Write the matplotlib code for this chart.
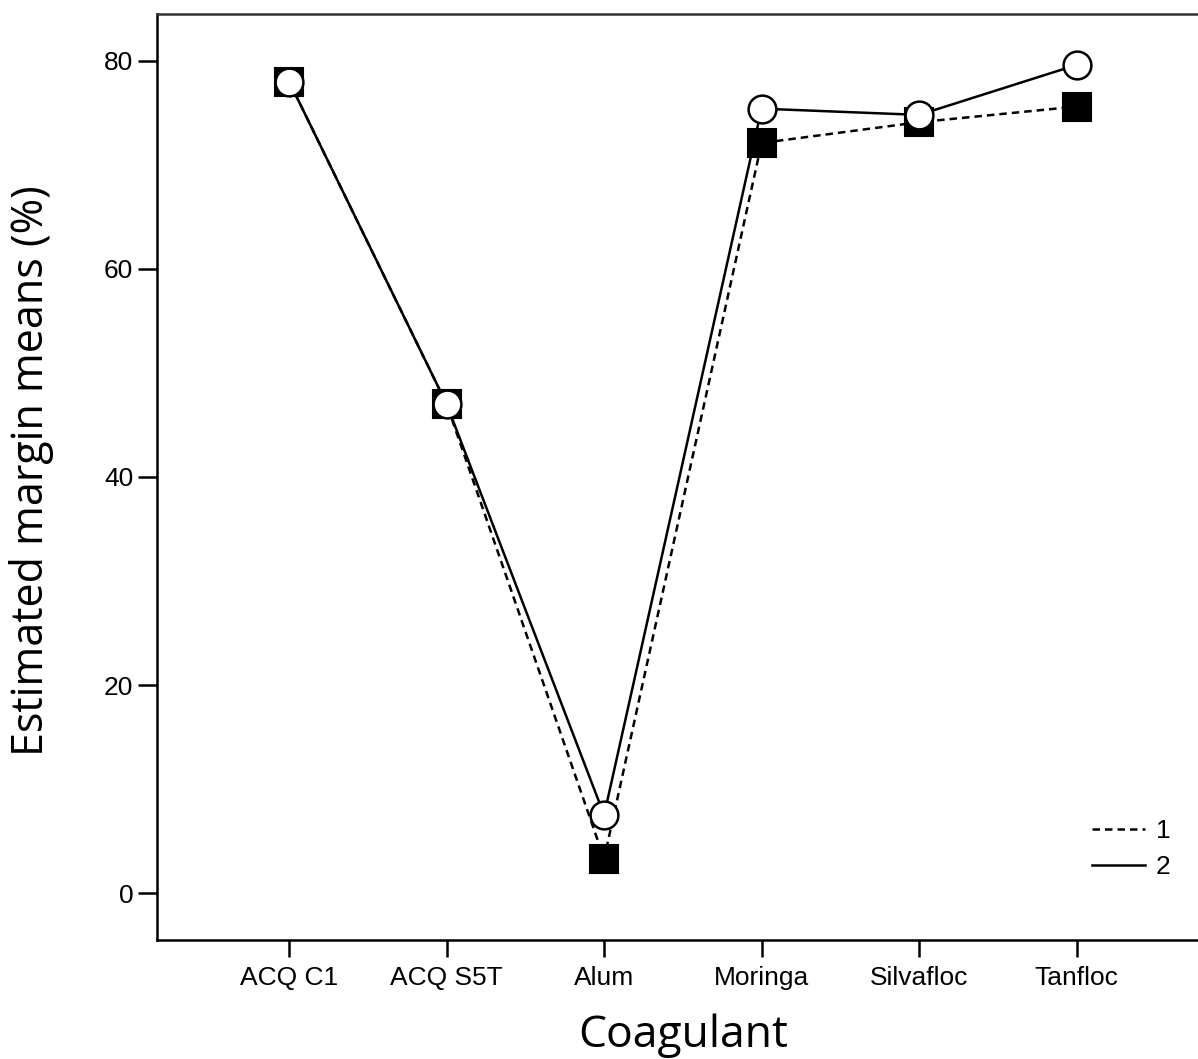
import numpy as np
import matplotlib
matplotlib.use('Agg')
import matplotlib.pyplot as plt
from matplotlib.lines import Line2D

# data
coagulants = ['ACQ C1', 'ACQ S5T', 'Alum', 'Moringa', 'Silvafloc', 'Tanfloc']
means_1 = [78.0, 47.0, 3.3, 72.1, 74.1, 75.6]
means_2 = [78.0, 47.0, 7.5, 75.4, 74.8, 79.6]
yticks = [0, 20, 40, 60, 80]

tick_font = 'Liberation Sans'
label_font = 'Open Sans'

fig = plt.figure(figsize=(11.98, 10.59), dpi=100)
ax = fig.add_axes([0.131, 0.1124, 0.878, 0.8744])

x = np.arange(len(coagulants))
ax.plot(x, means_1, linestyle=(0, (3, 2)), color='black', lw=1.8,
        marker='s', ms=20, mfc='black', mec='black', mew=1.5, zorder=3)
ax.plot(x, means_2, linestyle='-', color='black', lw=1.8,
        marker='o', ms=20, mfc='white', mec='black', mew=1.8, zorder=4)

ax.set_xlim(-0.84, len(coagulants) - 1 + 0.84)
ax.set_ylim(-4.5, 84.5)
ax.set_xticks(x)
ax.set_xticklabels(coagulants, fontfamily=tick_font, fontsize=19)
ax.set_yticks(yticks)
ax.set_yticklabels([str(v) for v in yticks], fontfamily=tick_font, fontsize=19)
ax.tick_params(axis='y', direction='out', length=13.5, width=1.8, pad=3.5)
ax.tick_params(axis='x', direction='out', length=12, width=1.8, pad=6.5)

for s in ['left', 'bottom', 'top']:
    ax.spines[s].set_linewidth(1.8)
    ax.spines[s].set_color('black')
ax.spines['top'].set_color('#333333')
ax.spines['right'].set_visible(False)

# axis titles placed in figure coordinates
fig.text(683 / 1198, 1 - 1047 / 1059, 'Coagulant', fontfamily=label_font,
         fontsize=32, ha='center', va='baseline')
fig.text(32 / 1198, 1 - 471 / 1059, 'Estimated margin means (%)', fontfamily=label_font,
         fontsize=31, ha='center', va='center', rotation=90)

handles = [Line2D([], [], color='black', lw=1.8, linestyle=(0, (3, 2))),
           Line2D([], [], color='black', lw=1.8, linestyle='-')]
leg = ax.legend(handles, ['1', '2'], loc='lower right', bbox_to_anchor=(0.986, 0.04),
                frameon=False, handlelength=2.0, handletextpad=0.4, labelspacing=0.45,
                prop={'family': tick_font, 'size': 19})

fig.savefig('out.png', dpi=100)
